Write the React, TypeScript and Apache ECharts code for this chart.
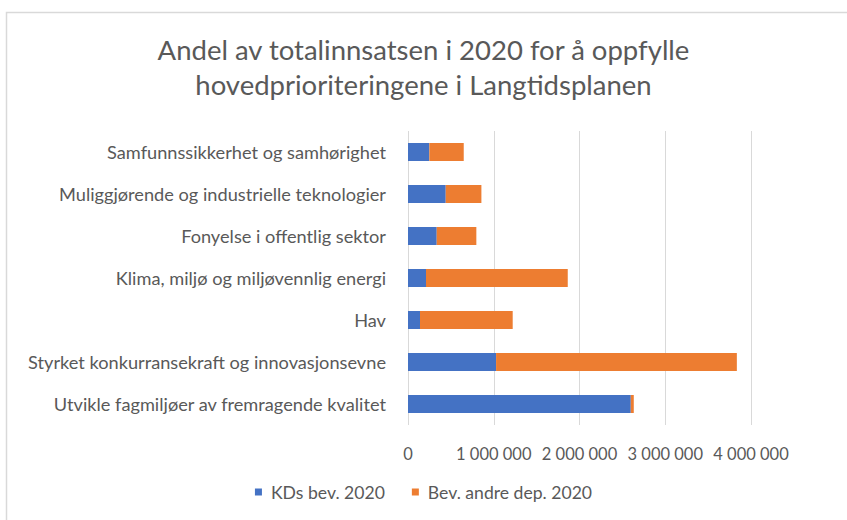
import React, { useEffect, useRef } from "react";
import * as echarts from "echarts";

const categories = [
  "Samfunnssikkerhet og samhørighet",
  "Muliggjørende og industrielle teknologier",
  "Fonyelse i offentlig sektor",
  "Klima, miljø og miljøvennlig energi",
  "Hav",
  "Styrket konkurransekraft og innovasjonsevne",
  "Utvikle fagmiljøer av fremragende kvalitet",
];
const kdValues = [249000, 440000, 335000, 210000, 140000, 1027000, 2598000];
const andreValues = [401000, 416000, 462000, 1653000, 1081000, 2808000, 35000];
const seriesNames = ["KDs bev. 2020", "Bev. andre dep. 2020"];
const titleText = "Andel av totalinnsatsen i 2020 for å oppfylle\nhovedprioriteringene i Langtidsplanen";

const FONT = "Lato";
const GREY = "#595959";

function fmt(v: number) {
  return String(Math.round(v)).replace(/\B(?=(\d{3})+(?!\d))/g, " ");
}

export default function App() {
  const ref = useRef<HTMLDivElement>(null);
  useEffect(() => {
    document.body.style.margin = "0";
    if (!ref.current) return;
    const chart = echarts.init(ref.current, undefined, { renderer: "svg" });
    chart.setOption({
      animation: false,
      backgroundColor: "#ffffff",
      textStyle: { fontFamily: FONT },
      graphic: [
        {
          type: "rect",
          shape: { x: 6.5, y: 12.5, width: 900, height: 600 },
          style: { fill: "none", stroke: "#D9D9D9", lineWidth: 1.5 },
          silent: true,
        },
      ],
      title: {
        text: titleText,
        left: "center",
        top: 27,
        textStyle: {
          fontFamily: FONT,
          fontWeight: "normal",
          fontSize: 27.5,
          lineHeight: 35,
          color: GREY,
        },
      },
      legend: {
        bottom: 14,
        left: "center",
        itemWidth: 7,
        itemHeight: 7,
        itemGap: 27,
        icon: "rect",
        textStyle: { fontFamily: FONT, fontSize: 17.6, color: GREY, padding: [0, 0, 0, 4] },
        data: seriesNames,
      },
      grid: { left: 408, right: 96, top: 131, bottom: 95, containLabel: false },
      xAxis: {
        type: "value",
        min: 0,
        max: 4000000,
        interval: 1000000,
        axisLine: { show: false },
        axisTick: { show: false },
        splitLine: { show: true, lineStyle: { color: "#D9D9D9", width: 1 } },
        axisLabel: {
          formatter: (v: number) => fmt(v),
          fontFamily: FONT,
          fontSize: 16.5,
          color: GREY,
          margin: 20,
        },
      },
      yAxis: {
        type: "category",
        inverse: true,
        data: categories,
        axisLine: { show: false },
        axisTick: { show: false },
        axisLabel: { fontFamily: FONT, fontSize: 18.2, color: GREY, margin: 22 },
      },
      series: [
        {
          name: seriesNames[0],
          type: "bar",
          stack: "total",
          data: kdValues,
          barWidth: 18,
          itemStyle: { color: "#4472C4" },
        },
        {
          name: seriesNames[1],
          type: "bar",
          stack: "total",
          data: andreValues,
          barWidth: 18,
          itemStyle: { color: "#ED7D31" },
        },
      ],
    });
    return () => chart.dispose();
  }, []);
  return <div ref={ref} style={{ width: 847, height: 520 }} />;
}
